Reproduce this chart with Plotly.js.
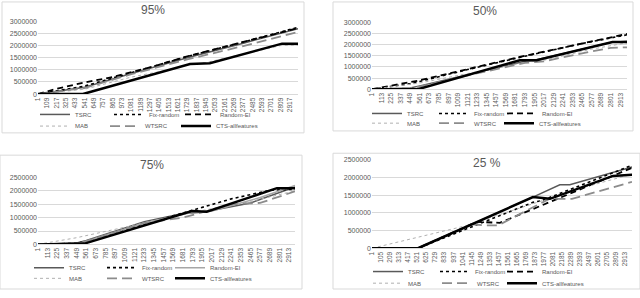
<!DOCTYPE html>
<html><head><meta charset="utf-8">
<script src="https://cdn.plot.ly/plotly-3.0.1.min.js"></script>
<style>html,body{margin:0;padding:0;background:#fff}#chart{width:640px;height:298px}</style>
</head><body><div id="chart"></div>
<script>
// ---------- tick labels ----------
const ticks95 = [1,109,217,325,433,541,649,757,865,973,1081,1189,1297,1405,1513,1621,1729,1837,1945,2053,2161,2269,2377,2485,2593,2701,2809,2917];
const ticks50 = [1,113,225,337,449,561,673,785,897,1009,1121,1233,1345,1457,1569,1681,1793,1905,2017,2129,2241,2353,2465,2577,2689,2801,2913];
const ticks75 = [1,113,225,337,449,561,673,785,897,1009,1121,1233,1345,1457,1569,1681,1793,1905,2017,2129,2241,2353,2465,2577,2689,2801,2913];
const ticks25 = [1,105,209,313,417,521,625,729,833,937,1041,1145,1249,1353,1457,1561,1665,1769,1873,1977,2081,2185,2289,2393,2497,2601,2705,2809,2913];
const seriesNames = ["TSRC","Fix-random","Random-EI","MAB","WTSRC","CTS-allfeatures"];

// ---------- 95% ----------
const p95_TSRC_x = [1,541,1081,1729,2377,3010];
const p95_TSRC_y = [0,280000,850000,1500000,2100000,2700000];
const p95_Fix_x = [1,217,541,1081,1729,2377,3010];
const p95_Fix_y = [0,130000,330000,880000,1550000,2150000,2750000];
const p95_REI_x = [1,217,541,865,1297,1729,2377,3010];
const p95_REI_y = [0,220000,480000,700000,1100000,1560000,2150000,2720000];
const p95_MAB_x = [1,541,1081,1513,1729,1945,2377,2809,3010];
const p95_MAB_y = [0,200000,700000,1000000,1200000,1300000,1650000,2000000,2020000];
const p95_WTSRC_x = [1,541,1081,1729,2377,3010];
const p95_WTSRC_y = [0,250000,820000,1430000,1980000,2560000];
const p95_CTS_x = [1,521,1760,1990,2825,3010];
const p95_CTS_y = [0,0,1240000,1270000,2080000,2080000];

// ---------- 50% ----------
const p50_TSRC_x = [1,449,561,1121,1793,1905,2465,2801,2990];
const p50_TSRC_y = [0,50000,150000,650000,1250000,1300000,1800000,2100000,2150000];
const p50_Fix_x = [1,113,449,561,1121,1793,2465,2990];
const p50_Fix_y = [0,60000,250000,350000,880000,1480000,2050000,2440000];
const p50_REI_x = [1,113,449,561,1121,1793,2465,2990];
const p50_REI_y = [0,80000,300000,400000,900000,1500000,2050000,2480000];
const p50_MAB_x = [1,449,561,1121,1793,2017,2577,2990];
const p50_MAB_y = [0,200000,280000,700000,1200000,1300000,1800000,2080000];
const p50_WTSRC_x = [1,449,561,1121,1793,2017,2577,2801,2990];
const p50_WTSRC_y = [0,40000,120000,620000,1180000,1250000,1700000,1850000,1880000];
const p50_CTS_x = [1,540,1733,1930,2820,2990];
const p50_CTS_y = [0,0,1300000,1300000,2120000,2120000];

// ---------- 75% ----------
const p75_TSRC_x = [1,449,561,1233,1681,1905,2465,2980];
const p75_TSRC_y = [0,50000,150000,850000,1150000,1200000,1550000,2150000];
const p75_Fix_x = [1,449,561,1233,1793,2241,2689,2980];
const p75_Fix_y = [0,40000,120000,750000,1300000,1700000,2020000,2060000];
const p75_REI_x = [1,449,561,1233,1793,2017,2577,2980];
const p75_REI_y = [0,20000,120000,800000,1200000,1250000,1750000,2200000];
const p75_MAB_x = [1,449,1233,1793,2465,2980];
const p75_MAB_y = [0,250000,800000,1200000,1600000,2000000];
const p75_WTSRC_x = [1,449,561,1233,1681,2241,2577,2980];
const p75_WTSRC_y = [0,40000,120000,800000,1000000,1500000,1550000,1980000];
const p75_CTS_x = [1,449,540,1785,1958,2770,2980];
const p75_CTS_y = [0,30000,30000,1250000,1220000,2100000,2100000];

// ---------- 25% ----------
const p25_TSRC_x = [1,530,1851,2160,2275,2990];
const p25_TSRC_y = [0,0,1450000,1800000,1800000,2300000];
const p25_Fix_x = [1,530,1851,1950,2990];
const p25_Fix_y = [0,0,1300000,1350000,2350000];
const p25_REI_x = [1,530,1207,1470,2990];
const p25_REI_y = [0,0,750000,720000,2280000];
const p25_MAB_x = [1,1100,1250,1851,2400,2990];
const p25_MAB_y = [0,650000,780000,1250000,1700000,2100000];
const p25_WTSRC_x = [1,530,1150,1300,1450,2040,2300,2990];
const p25_WTSRC_y = [0,0,680000,650000,650000,1400000,1400000,1880000];
const p25_CTS_x = [1,530,1851,2047,2772,2990];
const p25_CTS_y = [0,0,1450000,1400000,2050000,2080000];

// ---------- styles ----------
const W = 640, H = 298;
const FONT = "Liberation Sans, Arial, sans-serif";
const GRAY = "#595959";
function styles(reiSolid) {
  return [
    {color:"#595959", width:1.5, dash:"solid"},
    {color:"#000000", width:1.6, dash:"dot"},
    reiSolid ? {color:"#a6a6a6", width:1.5, dash:"solid"} : {color:"#000000", width:1.8, dash:"6px,4px"},
    {color:"#b0b0b0", width:1, dash:"dot"},
    {color:"#8c8c8c", width:1.8, dash:"10px,5px"},
    {color:"#000000", width:2.5, dash:"solid"}
  ];
}

const panels = [
  {key:"95", title:"95%", ticks:ticks95, xmax:3010, ymax:3000000,
   xs:[p95_TSRC_x,p95_Fix_x,p95_REI_x,p95_MAB_x,p95_WTSRC_x,p95_CTS_x],
   ys:[p95_TSRC_y,p95_Fix_y,p95_REI_y,p95_MAB_y,p95_WTSRC_y,p95_CTS_y],
   px:[38,298], py:[22,97], box:[2,2,304,137], tpos:[153,10],
   legX:[73,147,218,73,143,214], legY:[118,130], reiSolid:false},
  {key:"50", title:"50%", ticks:ticks50, xmax:2990, ymax:3000000,
   xs:[p50_TSRC_x,p50_Fix_x,p50_REI_x,p50_MAB_x,p50_WTSRC_x,p50_CTS_x],
   ys:[p50_TSRC_y,p50_Fix_y,p50_REI_y,p50_MAB_y,p50_WTSRC_y,p50_CTS_y],
   px:[372,627], py:[23,92], box:[333,2,633,135], tpos:[485,11],
   legX:[405,472,540,405,472,537], legY:[117,127], reiSolid:false},
  {key:"75", title:"75%", ticks:ticks75, xmax:2980, ymax:2500000,
   xs:[p75_TSRC_x,p75_Fix_x,p75_REI_x,p75_MAB_x,p75_WTSRC_x,p75_CTS_x],
   ys:[p75_TSRC_y,p75_Fix_y,p75_REI_y,p75_MAB_y,p75_WTSRC_y,p75_CTS_y],
   px:[38,295], py:[183,252], box:[0,160,302,298], tpos:[152,170],
   legX:[67,140,208,67,140,208], legY:[276,287], reiSolid:true},
  {key:"25", title:"25 %", ticks:ticks25, xmax:2990, ymax:2500000,
   xs:[p25_TSRC_x,p25_Fix_x,p25_REI_x,p25_MAB_x,p25_WTSRC_x,p25_CTS_x],
   ys:[p25_TSRC_y,p25_Fix_y,p25_REI_y,p25_MAB_y,p25_WTSRC_y,p25_CTS_y],
   px:[372,632], py:[165,256], box:[333,158,640,298], tpos:[487,168],
   legX:[406,473,540,406,475,540], legY:[280,292], reiSolid:false}
];

const data = [];
const layout = {
  width:W, height:H, autosize:false,
  margin:{l:0,r:0,t:0,b:0,pad:0},
  paper_bgcolor:"#ffffff", plot_bgcolor:"rgba(0,0,0,0)",
  font:{family:FONT, color:GRAY, size:7},
  showlegend:true, shapes:[], annotations:[]
};

let legCount = 0;
panels.forEach((p, i) => {
  const n = i + 1;
  const xa = n === 1 ? "xaxis" : "xaxis" + n;
  const ya = n === 1 ? "yaxis" : "yaxis" + n;
  const xr = n === 1 ? "x" : "x" + n;
  const yr = n === 1 ? "y" : "y" + n;
  const st = styles(p.reiSolid);
  for (let s = 0; s < 6; s++) {
    legCount++;
    const lg = legCount === 1 ? "legend" : "legend" + legCount;
    data.push({
      type:"scatter", mode:"lines", name:seriesNames[s],
      x:p.xs[s], y:p.ys[s], xaxis:xr, yaxis:yr,
      line:Object.assign({shape:"linear"}, st[s]),
      legend:lg, hoverinfo:"skip"
    });
    layout[lg] = {
      orientation:"h", xref:"paper", yref:"paper",
      x:(p.legX[s] - 38)/W, y:1 - p.legY[s < 3 ? 0 : 1]/H,
      xanchor:"left", yanchor:"middle",
      font:{size:6, color:GRAY, family:FONT}, bgcolor:"rgba(0,0,0,0)",
      borderwidth:0, itemwidth:30, itemclick:false, itemdoubleclick:false
    };
  }
  layout[xa] = {
    domain:[p.px[0]/W, p.px[1]/W], anchor:yr,
    range:[1, p.xmax], tickmode:"array", tickvals:p.ticks, ticktext:p.ticks.map(String),
    tickangle:-90, tickfont:{size:6.5, color:GRAY, family:FONT},
    showgrid:false, zeroline:false, showline:true, linecolor:"#d9d9d9", linewidth:1,
    ticks:"", fixedrange:true
  };
  layout[ya] = {
    domain:[1 - p.py[1]/H, 1 - p.py[0]/H], anchor:xr,
    range:[0, p.ymax], dtick:500000, tick0:0, tickformat:"d",
    tickfont:{size:7, color:GRAY, family:FONT},
    showgrid:true, gridcolor:"#d9d9d9", gridwidth:1, zeroline:false, showline:false,
    ticks:"", fixedrange:true
  };
  layout.shapes.push({type:"rect", xref:"paper", yref:"paper", layer:"below",
    x0:p.box[0]/W, x1:p.box[2]/W, y0:1 - p.box[3]/H, y1:1 - p.box[1]/H,
    fillcolor:"#ffffff", line:{color:"#d9d9d9", width:1}});
  layout.annotations.push({xref:"paper", yref:"paper", x:p.tpos[0]/W, y:1 - p.tpos[1]/H,
    xanchor:"center", yanchor:"middle", showarrow:false, text:p.title,
    font:{size:12, color:GRAY, family:FONT}});
});

Plotly.newPlot("chart", data, layout, {staticPlot:true, displayModeBar:false});
</script>
</body></html>
